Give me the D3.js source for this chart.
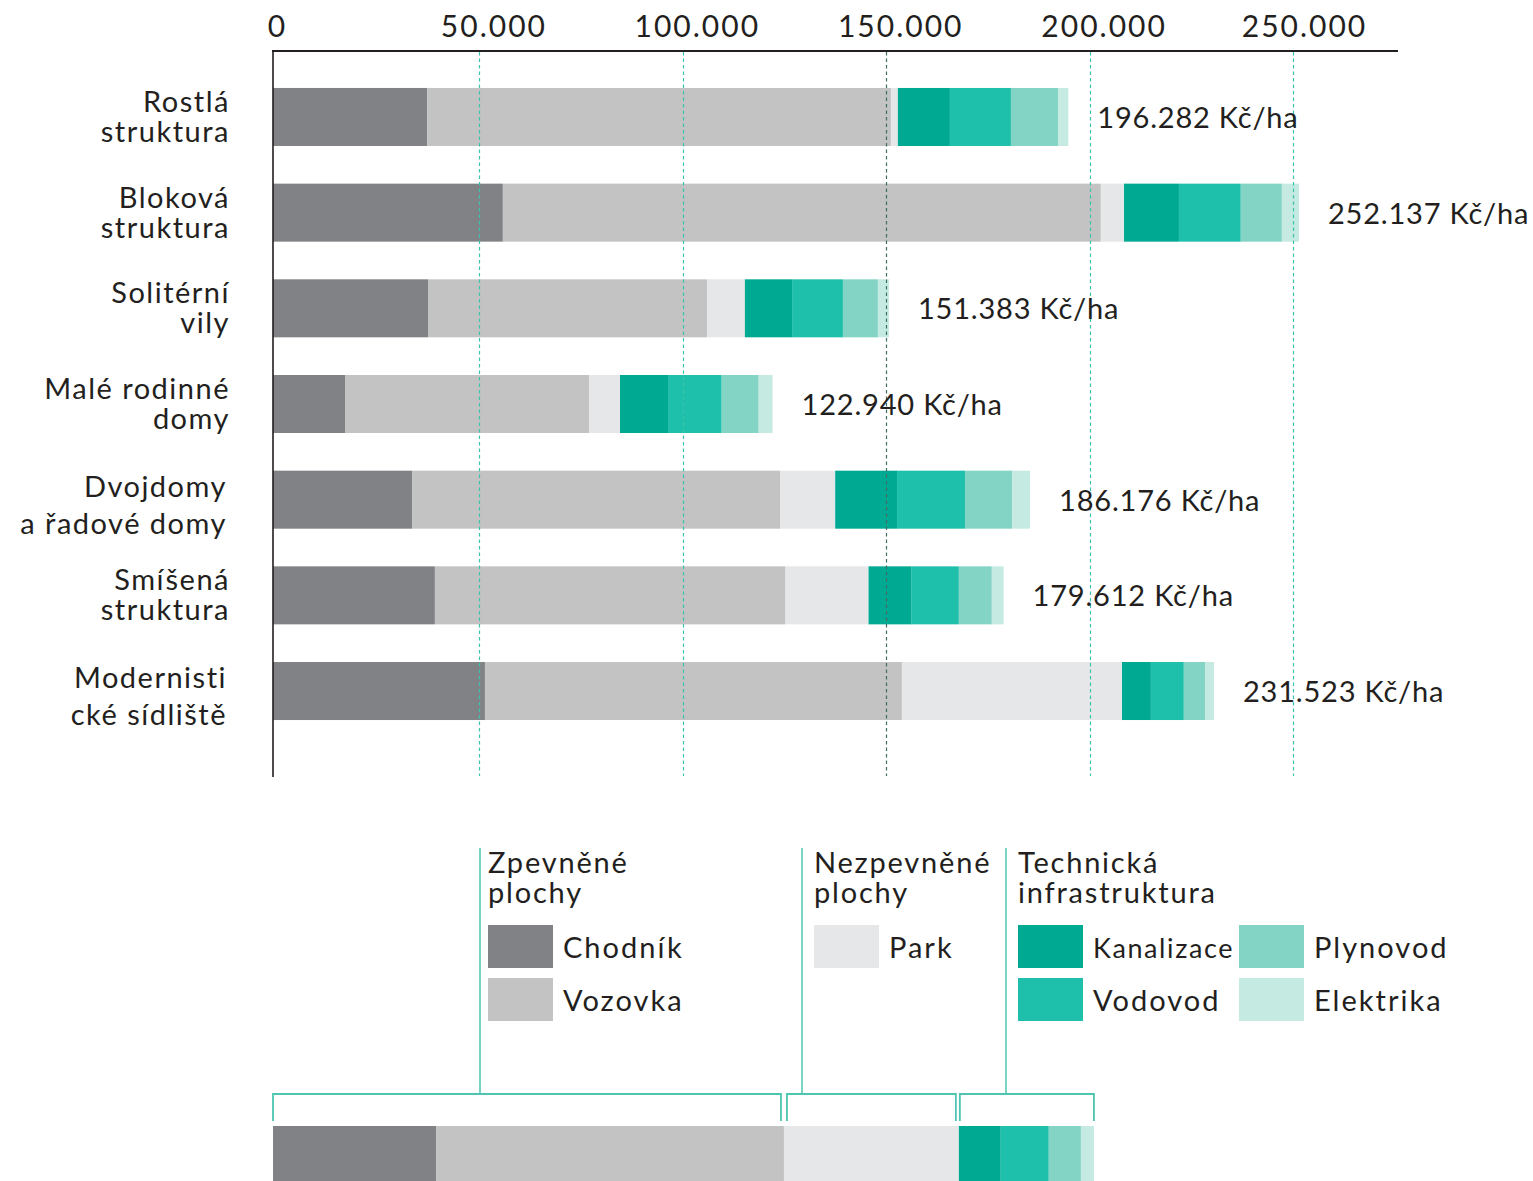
<!DOCTYPE html>
<html><head><meta charset="utf-8">
<script src="https://cdn.jsdelivr.net/npm/d3@7"></script>
<style>
html,body{margin:0;padding:0;background:#fff;}
svg text{font-family:Lato,"Noto Sans",sans-serif;fill:#231f20;}
</style></head>
<body><svg id="c" width="1533" height="1181"></svg>
<script>
const categories = [
  "Rostlá\nstruktura",
  "Bloková\nstruktura",
  "Solitérní\nvily",
  "Malé rodinné\ndomy",
  "Dvojdomy\na řadové domy",
  "Smíšená\nstruktura",
  "Modernisti\ncké sídliště"
];
const seriesNames = ["Chodník","Vozovka","Park","Kanalizace","Vodovod","Plynovod","Elektrika"];
const chodnik    = [37900, 56500, 38100, 17700, 34200, 39800, 52100];
const vozovka    = [114000,147000, 68600, 60000, 90500, 86200,102500];
const park       = [1700,   5700,  9300,  7600, 13500, 20400, 54100];
const kanalizace = [12800, 13500, 11600, 12000, 15200, 10600,  7100];
const vodovod    = [15000, 15200, 12500, 13000, 16700, 11600,  8100];
const plynovod   = [11600, 10100,  8600,  9100, 11600,  8100,  5200];
const elektrika  = [2500,   4200,  2700,  3400,  4400,  2900,  2200];
const totals     = [196282, 252137, 151383, 122940, 186176, 179612, 231523];
const ticks      = [0, 50000, 100000, 150000, 200000, 250000];
const exampleBar = [40100, 85500, 43000, 10300, 11800, 7900, 3200];
const groups = [
  {title:["Zpevněné","plochy"], members:["Chodník","Vozovka"]},
  {title:["Nezpevněné","plochy"], members:["Park"]},
  {title:["Technická","infrastruktura"], members:["Kanalizace","Vodovod","Plynovod","Elektrika"]}
];

const colors = {"Chodník":"#818286","Vozovka":"#c2c3c2","Park":"#e6e7e8","Kanalizace":"#00a991","Vodovod":"#1fc0ab","Plynovod":"#84d4c5","Elektrika":"#c4eae2"};
const teal = "#4cc6b1";

const svg = d3.select("#c");
const locale = d3.formatLocale({decimal:",", thousands:".", grouping:[3], currency:["",""]});
const fmt = locale.format(",d");

const x = d3.scaleLinear().domain([0,250000]).range([273,1290]);
const y = d3.scaleBand().domain(categories).range([50.3,757.7]).paddingInner(0.3937).paddingOuter(0.3937);

const seriesArrays = [chodnik, vozovka, park, kanalizace, vodovod, plynovod, elektrika];
const table = categories.map((c,i)=>{
  const o = {cat:c};
  seriesNames.forEach((s,j)=>o[s]=seriesArrays[j][i]);
  return o;
});
const stack = d3.stack().keys(seriesNames)(table);

// bars
svg.append("g").selectAll("g").data(stack).join("g")
  .attr("fill",d=>colors[d.key])
  .selectAll("rect").data(d=>d).join("rect")
  .attr("x",d=>x(d[0])).attr("width",d=>x(d[1])-x(d[0]))
  .attr("y",d=>y(d.data.cat)).attr("height",y.bandwidth());

// gridlines (drawn over the bars)
svg.append("g").selectAll("line").data(ticks.filter(t=>t>0)).join("line")
  .attr("x1",d=>Math.round(x(d)+3)+0.5).attr("x2",d=>Math.round(x(d)+3)+0.5).attr("y1",52).attr("y2",776)
  .attr("stroke",d=>d===150000?"#3d6e66":"#3cc3ab").attr("stroke-width",1.2)
  .attr("stroke-dasharray","3.5,3");

// axes
const xAxis = d3.axisTop(x).tickValues(ticks).tickSize(0).tickFormat(d=>fmt(d));
const ax = svg.append("g").attr("transform","translate(0,51)").call(xAxis);
ax.select(".domain").remove();
ax.selectAll("text").attr("font-size",30).attr("dy",-11).attr("dx",(d)=>d===0?4:(d===250000?14:17))
  .attr("letter-spacing",2)
  .style("font-family","Lato,'Noto Sans',sans-serif").attr("fill","#231f20");
svg.append("line").attr("x1",272).attr("x2",1398).attr("y1",51).attr("y2",51).attr("stroke","#231f20").attr("stroke-width",2);
svg.append("line").attr("x1",273).attr("x2",273).attr("y1",50).attr("y2",777).attr("stroke","#231f20").attr("stroke-width",1.6);

// category labels
const cl = svg.append("g").selectAll("text").data(categories).join("text")
  .attr("text-anchor","end").attr("font-size",29).attr("letter-spacing",1.5);
cl.each(function(d){
  const lines = d.split("\n");
  const cy = y(d)+y.bandwidth()/2;
  const wide = d.indexOf("Dvojdomy")===0 || d.indexOf("Modernisti")===0;
  d3.select(this).selectAll("tspan").data(lines).join("tspan")
    .attr("x", wide?227:230)
    .attr("y",(l,i)=> cy + (i===0 ? (wide?-3:-5) : (wide?34:25)))
    .text(l=>l);
});

// totals
svg.append("g").selectAll("text").data(categories).join("text")
  .attr("x",(d,i)=>x(d3.sum(seriesArrays,a=>a[i]))+29)
  .attr("y",d=>y(d)+y.bandwidth()/2+11)
  .attr("font-size",29).attr("letter-spacing",0.8)
  .text((d,i)=>fmt(totals[i])+" Kč/ha");

// legend
const legendX = [488, 814, 1018];
const connX = [480, 802, 1006];
groups.forEach((g,gi)=>{
  const gx = legendX[gi];
  svg.append("text").attr("font-size",29).attr("letter-spacing",1.8)
    .selectAll("tspan").data(g.title).join("tspan")
    .attr("x",gx).attr("y",(t,i)=>873+i*30).text(t=>t);
  g.members.forEach((m,mi)=>{
    const col = Math.floor(mi/2), row = mi%2;
    const sx = gx + col*221, sy = 925 + row*53;
    svg.append("rect").attr("x",sx).attr("y",sy).attr("width",65).attr("height",43).attr("fill",colors[m]);
    svg.append("text").attr("x",sx+75).attr("y",sy+33)
      .attr("font-size", m==="Kanalizace"?27:29)
      .attr("letter-spacing", m==="Kanalizace"?1.6:2)
      .text(m);
  });
});

// example bar
const exStack = d3.stack().keys(seriesNames)([Object.fromEntries(seriesNames.map((s,j)=>[s,exampleBar[j]]))]);
svg.append("g").selectAll("rect").data(exStack).join("rect")
  .attr("fill",d=>colors[d.key])
  .attr("x",d=>x(d[0][0])).attr("width",d=>x(d[0][1])-x(d[0][0]))
  .attr("y",1126).attr("height",56);

// brackets
const bounds = [[0,2],[2,3],[3,7]].map(([a,b])=>[
  x(d3.sum(exampleBar.slice(0,a))), x(d3.sum(exampleBar.slice(0,b)))
]);
const insets = [[0,-3],[3,-3],[1,0]];
bounds.forEach(([a,b],i)=>{
  const l = a + insets[i][0], r = b + insets[i][1];
  svg.append("path")
    .attr("d",`M${l},1121V1094H${r}V1121`)
    .attr("fill","none").attr("stroke",teal).attr("stroke-width",1.8);
  svg.append("line").attr("x1",connX[i]).attr("x2",connX[i]).attr("y1",848).attr("y2",1094)
    .attr("stroke",teal).attr("stroke-width",1.5);
});
</script></body></html>
